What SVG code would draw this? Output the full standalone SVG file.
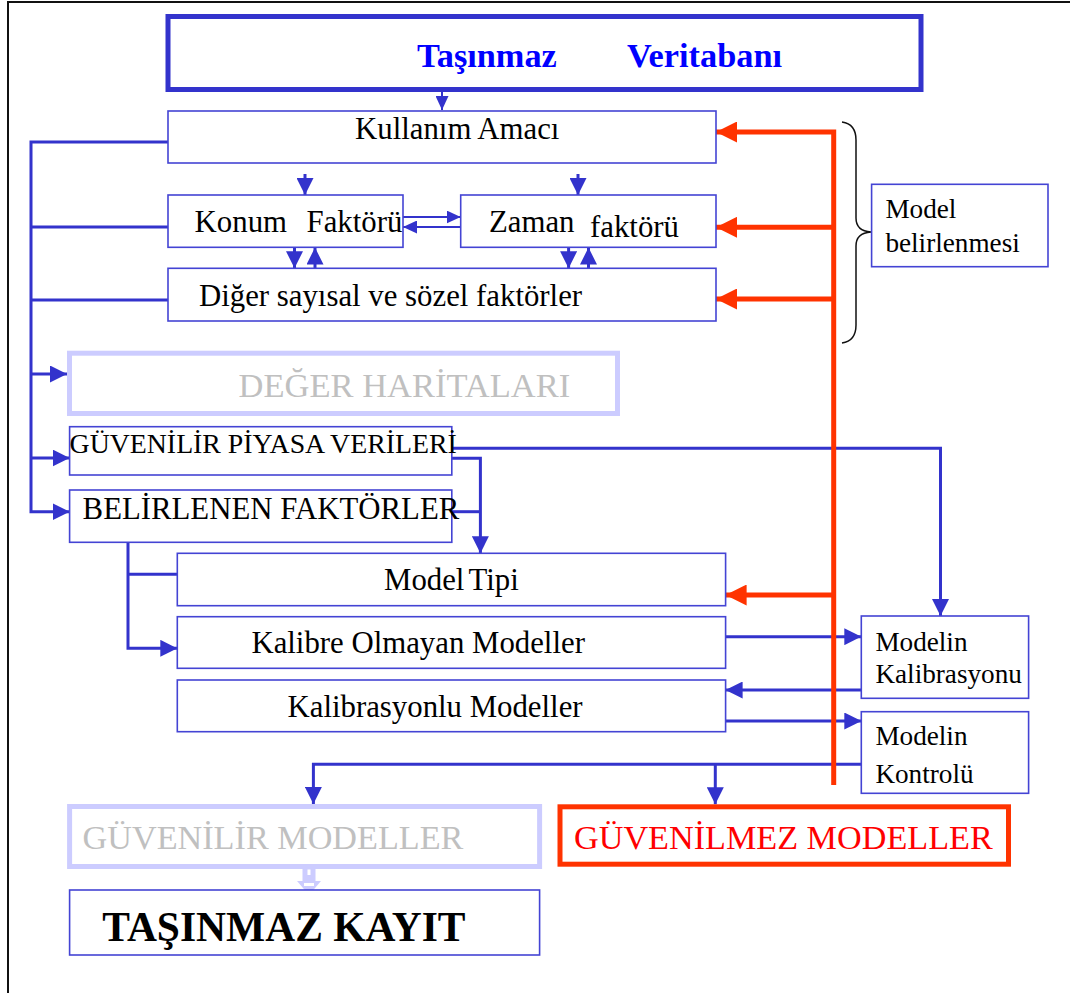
<svg xmlns="http://www.w3.org/2000/svg" width="1070" height="993" viewBox="0 0 1070 993">
<style>
text{font-family:"Liberation Serif","Times New Roman",serif;fill:#000}
.box{fill:#fff;stroke:#4444d4;stroke-width:1.6}
.pale{fill:#fff;stroke:#ccccff;stroke-width:5}
.t30{font-size:30.8px}
.t27{font-size:27.8px}
.t26{font-size:27.2px}
.c3{fill:none;stroke:#3333cc;stroke-width:3}
.c2{fill:none;stroke:#3333cc;stroke-width:2}
.red{fill:none;stroke:#ff3300;stroke-width:5}
</style>
<defs>
<marker id="ab" markerUnits="userSpaceOnUse" markerWidth="17" markerHeight="17" refX="17" refY="8.5" orient="auto"><path d="M0,0 L17,8.5 L0,17 Z" fill="#3333cc"/></marker>
<marker id="as" markerUnits="userSpaceOnUse" markerWidth="14" markerHeight="13" refX="14" refY="6.5" orient="auto"><path d="M0,0 L14,6.5 L0,13 Z" fill="#3333cc"/></marker>
<marker id="ar" markerUnits="userSpaceOnUse" markerWidth="21" markerHeight="21" refX="21" refY="10.5" orient="auto"><path d="M0,0 L21,10.5 L0,21 Z" fill="#ff3300"/></marker>
</defs>
<rect width="1070" height="993" fill="#fff"/>
<path d="M8,993 V2 H1070" fill="none" stroke="#111" stroke-width="2"/>

<g id="connectors">
<path class="c2" d="M442,92 V110" marker-end="url(#as)"/>
<path class="c3" d="M168,142 H31 V511.7 H69.6" marker-end="url(#ab)"/>
<path class="c3" d="M31,227 H168"/>
<path class="c3" d="M31,300 H168"/>
<path class="c3" d="M31,374 H67" marker-end="url(#ab)"/>
<path class="c3" d="M31,458 H69.6" marker-end="url(#ab)"/>
<path class="c3" d="M305,174 V195" marker-end="url(#ab)"/>
<path class="c3" d="M578,174 V195" marker-end="url(#ab)"/>
<path class="c2" d="M403,217 H460.7" marker-end="url(#as)"/>
<path class="c2" d="M460.7,227 H403" marker-end="url(#as)"/>
<path class="c3" d="M294.5,247.5 V268.3" marker-end="url(#ab)"/>
<path class="c3" d="M315,268.3 V247.5" marker-end="url(#ab)"/>
<path class="c3" d="M568.6,247.5 V268.3" marker-end="url(#ab)"/>
<path class="c3" d="M588.5,268.3 V247.5" marker-end="url(#ab)"/>
<path class="c3" d="M453,448.3 H940.5 V616" marker-end="url(#ab)"/>
<path class="c3" d="M452,458.3 H480.4 V553.3" marker-end="url(#ab)"/>
<path class="c3" d="M452,511.7 H480.4"/>
<path class="c3" d="M128,542.3 V648.3 H177.3" marker-end="url(#ab)"/>
<path class="c3" d="M128,574.3 H177.3"/>
<path class="c3" d="M725.6,636.7 H861.3" marker-end="url(#ab)"/>
<path class="c3" d="M861.3,690 H725.6" marker-end="url(#ab)"/>
<path class="c3" d="M725.6,721 H861.3" marker-end="url(#ab)"/>
<path class="c3" d="M861.3,764.3 H313.4 V804" marker-end="url(#ab)"/>
<path class="c3" d="M715.3,764.3 V804.3" marker-end="url(#ab)"/>
<path class="red" d="M833.7,785 V132 H716" marker-end="url(#ar)"/>
<path class="red" d="M833.7,227.3 H716" marker-end="url(#ar)"/>
<path class="red" d="M833.7,299 H716" marker-end="url(#ar)"/>
<path class="red" d="M833.7,595 H725.6" marker-end="url(#ar)"/>
<path d="M842,122 Q856,124 856,140 V218 Q856,231 871,232 Q856,233 856,246 V325 Q856,341 842,343" fill="none" stroke="#111" stroke-width="1.5"/>
<path d="M302.5,868 H315.5 V881 H321 L309,895 L297,881 H302.5 Z" fill="#ccccff"/>
<path d="M307.5,869.5 H310.5 V875 H307.5 Z M304,883 H314 V886 H304 Z" fill="#fff"/>
</g>

<g id="title"><rect x="168" y="16.5" width="753" height="73" fill="#fff" stroke="#3333cc" stroke-width="5"/>
<text x="417" y="67" font-size="34.3" font-weight="bold" style="fill:#0000ff">Taşınmaz</text>
<text x="627" y="67" font-size="34.3" font-weight="bold" style="fill:#0000ff">Veritabanı</text></g>

<g id="kullanim"><rect class="box" x="168" y="111" width="548" height="52"/><text class="t30" x="355" y="139">Kullanım Amacı</text></g>
<g id="konum"><rect class="box" x="168" y="195" width="235" height="52.3"/><text class="t30" x="194.6" y="232.3">Konum</text><text class="t30" x="306.5" y="232.3">Faktörü</text></g>
<g id="zaman"><rect class="box" x="460.7" y="195" width="255.3" height="52.3"/><text class="t30" x="489" y="232.3">Zaman</text><text class="t30" x="590" y="237">faktörü</text></g>
<g id="diger"><rect class="box" x="168" y="268.3" width="548" height="52.7"/><text class="t30" x="199" y="306">Diğer sayısal ve sözel faktörler</text></g>
<g id="model-belirlenmesi"><rect class="box" x="871.6" y="184.3" width="176.4" height="82.4"/><text class="t26" x="885.4" y="218.3">Model</text><text class="t26" x="885.4" y="252.3">belirlenmesi</text></g>
<g id="deger"><rect class="pale" x="69.5" y="353.2" width="548" height="60.3"/><text x="238.6" y="396.7" font-size="34.5" style="fill:#c0c0c0">DEĞER HARİTALARI</text></g>
<g id="piyasa"><rect class="box" x="69.6" y="426.7" width="382.2" height="48.3"/><text class="t27" x="69.6" y="452.7">GÜVENİLİR PİYASA VERİLERİ</text></g>
<g id="belirlenen"><rect class="box" x="69.6" y="490" width="382.2" height="52.3"/><text class="t30" x="82.6" y="519" font-size="31.2">BELİRLENEN FAKTÖRLER</text></g>
<g id="model-tipi"><rect class="box" x="177.3" y="553.3" width="548.3" height="52.4"/><text class="t30" x="384" y="590" word-spacing="-3">Model Tipi</text></g>
<g id="kalibre-olmayan"><rect class="box" x="177.3" y="616.7" width="548.3" height="51.6"/><text class="t30" x="251.4" y="653.3">Kalibre Olmayan Modeller</text></g>
<g id="kalibrasyonlu"><rect class="box" x="177.3" y="680" width="548.3" height="51.7"/><text class="t30" x="287.5" y="716.7">Kalibrasyonlu Modeller</text></g>
<g id="modelin-kalibrasyonu"><rect class="box" x="861.3" y="616" width="167.3" height="82.3"/><text class="t26" x="875.4" y="651">Modelin</text><text class="t26" x="875.4" y="683.3">Kalibrasyonu</text></g>
<g id="modelin-kontrolu"><rect class="box" x="861.3" y="711.7" width="167.3" height="81.6"/><text class="t26" x="875.4" y="745">Modelin</text><text class="t26" x="875.4" y="783.3">Kontrolü</text></g>
<g id="guvenilir-modeller"><rect class="pale" x="69.6" y="806.5" width="470" height="60"/><text x="82.6" y="849" font-size="34.2" style="fill:#c0c0c0">GÜVENİLİR MODELLER</text></g>
<g id="guvenilmez-modeller"><rect x="560" y="806.8" width="448.5" height="57.4" fill="#fff" stroke="#ff3300" stroke-width="5"/><text x="574" y="849" font-size="34.2" style="fill:#ff0000">GÜVENİLMEZ MODELLER</text></g>
<g id="tasinmaz-kayit"><rect class="box" x="69.6" y="890" width="470" height="65"/><text x="102.3" y="940.7" font-size="41.5" font-weight="bold">TAŞINMAZ KAYIT</text></g>
</svg>
